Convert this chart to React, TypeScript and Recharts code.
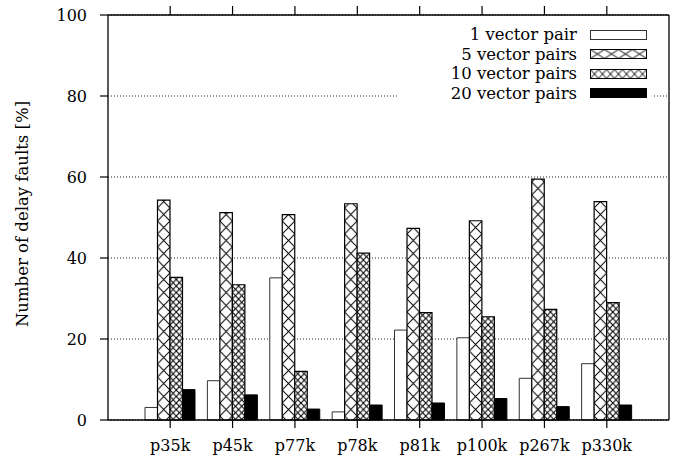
import { BarChart, Bar, XAxis, YAxis, CartesianGrid, Legend, Label } from 'recharts';

const circuits = ['p35k', 'p45k', 'p77k', 'p78k', 'p81k', 'p100k', 'p267k', 'p330k'];
const onePair = [3.1, 9.7, 35.1, 2.0, 22.2, 20.3, 10.3, 13.9];
const fivePairs = [54.3, 51.2, 50.7, 53.4, 47.3, 49.2, 59.5, 53.9];
const tenPairs = [35.2, 33.4, 12.0, 41.2, 26.5, 25.5, 27.3, 29.0];
const twentyPairs = [7.5, 6.2, 2.7, 3.7, 4.2, 5.3, 3.3, 3.7];
const yTicks = [0, 20, 40, 60, 80, 100];
const seriesNames = ['1 vector pair', '5 vector pairs', '10 vector pairs', '20 vector pairs'];

const FONT = '"DejaVu Serif", serif';

const data = circuits.map((name, i) => ({
  name,
  one: onePair[i],
  five: fivePairs[i],
  ten: tenPairs[i],
  twenty: twentyPairs[i],
}));

const fills = ['#fff', 'url(#hatch5)', 'url(#hatch10)', '#000'];

function Swatch({ index }: { index: number }) {
  const w = 56;
  const h = 9;
  if (index === 0 || index === 3) {
    return (
      <svg width={w + 1} height={h + 1} style={{ display: 'block' }}>
        <rect x={0.5} y={0.5} width={w} height={h} fill={index === 0 ? '#fff' : '#000'} stroke={index === 0 ? '#333' : '#000'} />
      </svg>
    );
  }
  const pw = index === 1 ? 14 : 8;
  const id = index === 1 ? 'key5' : 'key10';
  return (
    <svg width={w + 1} height={h + 1} style={{ display: 'block' }}>
      <defs>
        <pattern id={id} patternUnits="userSpaceOnUse" x={0.5} y={0.5} width={pw} height={h}>
          <rect width={pw} height={h} fill="#fff" />
          <path d={`M0,0 L${pw},${h} M${pw},0 L0,${h}`} stroke="#000" strokeWidth={1} />
        </pattern>
      </defs>
      <rect x={0.5} y={0.5} width={w} height={h} fill={`url(#${id})`} stroke="#000" />
    </svg>
  );
}

function KeyBox() {
  return (
    <div style={{ position: 'relative', width: 256, height: 80, background: '#fff', fontFamily: FONT, fontSize: 16.5, color: '#000' }}>
      {seriesNames.map((s, i) => (
        <div
          key={s}
          style={{ position: 'absolute', right: 6, top: i * 19.5, height: 19.5, lineHeight: '19.5px', display: 'flex', alignItems: 'center', whiteSpace: 'nowrap' }}
        >
          <span>{s}</span>
          <div style={{ marginLeft: 13 }}>
            <Swatch index={i} />
          </div>
        </div>
      ))}
    </div>
  );
}

export default function App() {
  const tickStyle = { fontFamily: FONT, fontSize: 16, fill: '#000' };
  return (
    <div style={{ width: 673, height: 464, fontFamily: FONT }}>
      <style>{`body{margin:0}`}</style>
      <BarChart width={673} height={464} data={data} margin={{ top: 0, right: 0, bottom: 0, left: 0 }} barGap={0}>
        <defs>
          <pattern id="hatch5" patternUnits="userSpaceOnUse" x={157.5} y={0} width={12.475} height={13}>
            <rect width={12.475} height={13} fill="#fff" />
            <path d="M0,0 L12.475,13 M12.475,0 L0,13" stroke="#000" strokeWidth={1} />
          </pattern>
          <pattern id="hatch10" patternUnits="userSpaceOnUse" x={170} y={0} width={6.2375} height={6.5}>
            <rect width={6.2375} height={6.5} fill="#fff" />
            <path d="M0,0 L6.2375,6.5 M6.2375,0 L0,6.5" stroke="#000" strokeWidth={1.1} />
          </pattern>
        </defs>
        <CartesianGrid vertical={false} stroke="#222" strokeDasharray="1 2" />
        <XAxis
          dataKey="name"
          height={44}
          padding={{ left: 31, right: 31 }}
          tickSize={8}
          tickMargin={12}
          tick={tickStyle}
          axisLine={{ stroke: '#000', strokeWidth: 1.3 }}
          tickLine={{ stroke: '#000', strokeWidth: 1.2 }}
          interval={0}
        />
        <XAxis
          xAxisId="top"
          dataKey="name"
          orientation="top"
          height={15}
          padding={{ left: 31, right: 31 }}
          tickSize={9}
          tickFormatter={() => ''}
          axisLine={{ stroke: '#000', strokeWidth: 1.3 }}
          tickLine={{ stroke: '#000', strokeWidth: 1.2 }}
          interval={0}
        />
        <YAxis
          width={108}
          domain={[0, 100]}
          ticks={yTicks}
          tickSize={8}
          tickMargin={13}
          tick={tickStyle}
          axisLine={{ stroke: '#000', strokeWidth: 1.3 }}
          tickLine={{ stroke: '#000', strokeWidth: 1.2 }}
        >
          <Label
            content={() => (
              <text
                x={22}
                y={214}
                transform="rotate(-90 22 214)"
                textAnchor="middle"
                dominantBaseline="central"
                style={{ fontFamily: FONT, fontSize: 16.5, fill: '#000' }}
              >
                Number of delay faults [%]
              </text>
            )}
          />
        </YAxis>
        <YAxis
          yAxisId="r"
          orientation="right"
          width={4}
          domain={[0, 100]}
          ticks={yTicks}
          tickFormatter={() => ''}
          tickLine={false}
          axisLine={{ stroke: '#000', strokeWidth: 1.3 }}
        />
        <Legend
          layout="vertical"
          align="center"
          verticalAlign="middle"
          content={() => <KeyBox />}
          wrapperStyle={{ left: 397, top: 25, width: 256, height: 80 }}
        />
        <Bar dataKey="one" name={seriesNames[0]} barSize={12.5} fill={fills[0]} stroke="#333" strokeWidth={1} isAnimationActive={false} />
        <Bar dataKey="five" name={seriesNames[1]} barSize={12.5} fill={fills[1]} stroke="#000" strokeWidth={1.2} isAnimationActive={false} />
        <Bar dataKey="ten" name={seriesNames[2]} barSize={12.5} fill={fills[2]} stroke="#000" strokeWidth={1.2} isAnimationActive={false} />
        <Bar dataKey="twenty" name={seriesNames[3]} barSize={12.5} fill={fills[3]} stroke="#000" strokeWidth={1} isAnimationActive={false} />
      </BarChart>
    </div>
  );
}
